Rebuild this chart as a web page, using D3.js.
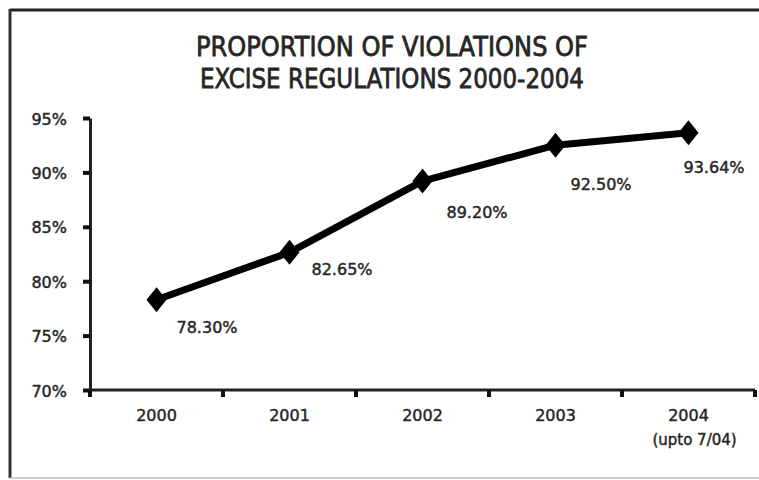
<!DOCTYPE html>
<html>
<head>
<meta charset="utf-8">
<script src="https://cdn.jsdelivr.net/npm/d3@7"></script>
<style>
  html, body { margin: 0; padding: 0; background: #fff; }
  svg { display: block; }
  text { font-family: "DejaVu Sans", sans-serif; fill: #262626; }
  .heavy { stroke: #262626; stroke-width: 0.45px; }
  .title { stroke: #2a2a2a; stroke-width: 0.8px; }
</style>
</head>
<body>
<svg id="chart" width="759" height="480"></svg>
<script>
// Chart data
const years = ["2000", "2001", "2002", "2003", "2004"];
const yearNotes = ["", "", "", "", "(upto 7/04)"];
const violationShare = [78.30, 82.65, 89.20, 92.50, 93.64];
const yTicks = [70, 75, 80, 85, 90, 95];
const titleLines = ["PROPORTION OF VIOLATIONS OF", "EXCISE REGULATIONS 2000-2004"];

// Label placement relative to each marker (layout only)
const labelOffsets = [[20, 33], [22, 23], [24, 37], [15, 45], [-5, 40]];

const svg = d3.select("#chart");
const W = 759, H = 480;
const margin = { left: 90, right: 4, top: 118, bottom: 90 };

// Outer frame: dark top and left edges, light bottom edge
svg.append("line").attr("x1", 10).attr("x2", W).attr("y1", 10).attr("y2", 10)
  .attr("stroke", "#222").attr("stroke-width", 3);
svg.append("line").attr("x1", 10).attr("x2", 10).attr("y1", 9).attr("y2", 478)
  .attr("stroke", "#333").attr("stroke-width", 3);
svg.append("line").attr("x1", 10).attr("x2", W).attr("y1", 478).attr("y2", 478)
  .attr("stroke", "#bbb").attr("stroke-width", 1.5);

// Title
svg.append("g").selectAll("text").data(titleLines).join("text")
  .attr("class", "title")
  .attr("x", 392).attr("y", (d, i) => 56 + i * 32)
  .attr("text-anchor", "middle")
  .attr("font-family", "'DejaVu Sans Condensed', 'DejaVu Sans', sans-serif")
  .attr("font-size", 26)
  .attr("fill", "#2a2a2a")
  .attr("textLength", (d, i) => i === 0 ? 392 : 384)
  .attr("lengthAdjust", "spacingAndGlyphs")
  .text(d => d);

const x = d3.scaleBand().domain(years).range([margin.left, W - margin.right]).padding(0);
const y = d3.scaleLinear().domain([70, 95]).range([H - margin.bottom, margin.top]);

// Y axis
const yAxis = svg.append("g").attr("transform", `translate(${margin.left},0)`)
  .call(d3.axisLeft(y).tickValues(yTicks).tickFormat(d => d + "%").tickSize(7).tickSizeOuter(0).tickPadding(16));
yAxis.select(".domain").attr("stroke", "#222").attr("stroke-width", 3);
yAxis.selectAll(".tick line").attr("stroke", "#111").attr("stroke-width", 4);
yAxis.selectAll(".tick text").attr("class", "heavy").attr("font-family", "'DejaVu Sans', sans-serif")
  .attr("font-size", 16).attr("fill", "#262626").attr("dy", "0.38em");

// X axis with ticks on band boundaries
const xAxis = svg.append("g").attr("transform", `translate(0,${y(70)})`);
xAxis.append("line").attr("x1", margin.left - 1).attr("x2", W - margin.right)
  .attr("stroke", "#222").attr("stroke-width", 3);
const bounds = years.map(d => x(d)).concat([x(years[years.length - 1]) + x.bandwidth()]);
xAxis.selectAll(".xtick").data(bounds).join("line").attr("class", "xtick")
  .attr("x1", d => d).attr("x2", d => d).attr("y1", 0).attr("y2", 7)
  .attr("stroke", "#111").attr("stroke-width", 4);
xAxis.selectAll(".xlab").data(years).join("text").attr("class", "xlab heavy")
  .attr("x", d => x(d) + x.bandwidth() / 2).attr("y", 31)
  .attr("text-anchor", "middle").attr("font-size", 16).text(d => d);
xAxis.selectAll(".xnote").data(years).join("text").attr("class", "xnote heavy")
  .attr("x", d => x(d) + x.bandwidth() / 2 + 6).attr("y", 55)
  .attr("text-anchor", "middle").attr("font-size", 15)
  .text((d, i) => yearNotes[i]);

// Line and markers
const pts = years.map((d, i) => ({ year: d, v: violationShare[i], cx: x(d) + x.bandwidth() / 2, cy: y(violationShare[i]) }));
svg.append("path").datum(pts)
  .attr("d", d3.line().x(d => d.cx).y(d => d.cy))
  .attr("fill", "none").attr("stroke", "#000").attr("stroke-width", 7).attr("stroke-linejoin", "round");
svg.selectAll(".mk").data(pts).join("path").attr("class", "mk")
  .attr("transform", d => `translate(${d.cx},${d.cy})`)
  .attr("d", "M0,-12.5L10,0L0,12.5L-10,0Z").attr("fill", "#000");

// Value labels
svg.selectAll(".vl").data(pts).join("text").attr("class", "vl heavy")
  .attr("x", (d, i) => d.cx + labelOffsets[i][0])
  .attr("y", (d, i) => d.cy + labelOffsets[i][1])
  .attr("font-size", 16).text(d => d.v.toFixed(2) + "%");
</script>
</body>
</html>
